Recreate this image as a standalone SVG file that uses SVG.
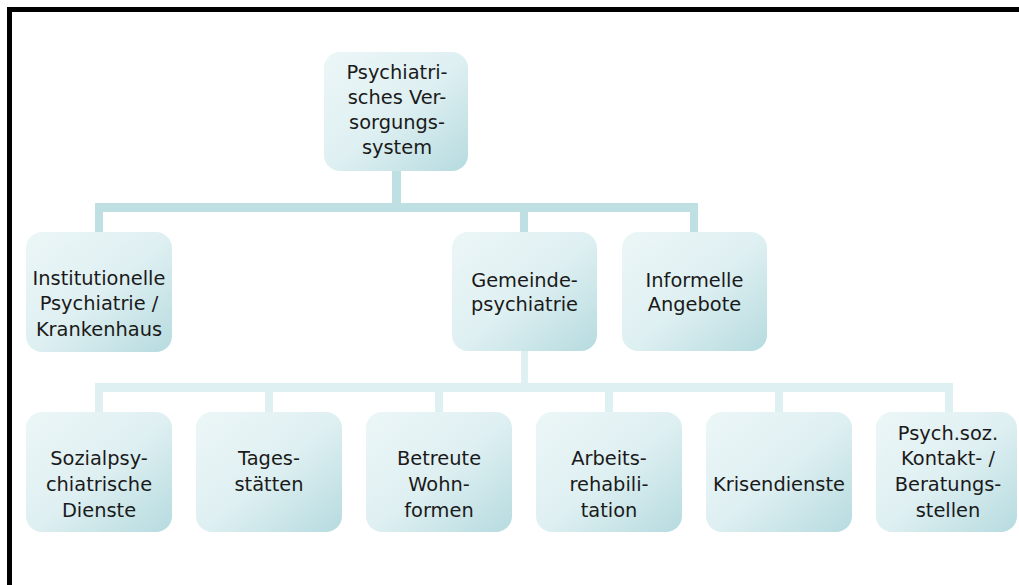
<svg xmlns="http://www.w3.org/2000/svg" width="1019" height="585" viewBox="0 0 1019 585">
<defs>
<linearGradient id="g" x1="0" y1="0" x2="1" y2="1">
<stop offset="0" stop-color="#ecf6f7"/>
<stop offset="0.5" stop-color="#dff0f2"/>
<stop offset="1" stop-color="#b6dbdf"/>
</linearGradient>
</defs>
<style>
.n{fill:url(#g);}
.t{font-family:"DejaVu Sans",sans-serif;font-size:19.4px;fill:#1a1a1a;text-anchor:middle;}
.c1{fill:#bfe0e3;}
.c2{fill:#def0f1;}
</style>
<rect width="1019" height="585" fill="#ffffff"/>
<path d="M9.5,585 V9.5 H1019" fill="none" stroke="#000" stroke-width="5"/>
<g id="connectors">
<rect class="c1" x="392" y="171" width="9" height="41"/>
<rect class="c1" x="95" y="203" width="603" height="9"/>
<rect class="c1" x="95" y="203" width="8" height="29"/>
<rect class="c1" x="520" y="203" width="8" height="29"/>
<rect class="c1" x="690" y="203" width="8" height="29"/>
<rect class="c2" x="521" y="351" width="7" height="41"/>
<rect class="c2" x="95" y="383" width="858" height="9"/>
<rect class="c2" x="95" y="383" width="8" height="29"/>
<rect class="c2" x="265" y="383" width="8" height="29"/>
<rect class="c2" x="435" y="383" width="8" height="29"/>
<rect class="c2" x="605" y="383" width="8" height="29"/>
<rect class="c2" x="775" y="383" width="8" height="29"/>
<rect class="c2" x="945" y="383" width="8" height="29"/>
</g>
<g id="n-root">
<rect class="n" x="324" y="52" width="144" height="119" rx="16"/>
<text class="t" x="397" y="79">Psychiatri-</text>
<text class="t" x="397" y="104">sches Ver-</text>
<text class="t" x="397" y="129">sorgungs-</text>
<text class="t" x="397" y="154">system</text>
</g>
<g id="n-inst">
<rect class="n" x="26" y="232" width="146" height="120" rx="16"/>
<text class="t" x="99" y="285">Institutionelle</text>
<text class="t" x="99" y="310">Psychiatrie /</text>
<text class="t" x="99" y="336">Krankenhaus</text>
</g>
<g id="n-gem">
<rect class="n" x="452" y="232" width="145" height="119" rx="16"/>
<text class="t" x="524.5" y="287">Gemeinde-</text>
<text class="t" x="524.5" y="311">psychiatrie</text>
</g>
<g id="n-inf">
<rect class="n" x="622" y="232" width="145" height="119" rx="16"/>
<text class="t" x="694.5" y="287">Informelle</text>
<text class="t" x="694.5" y="311">Angebote</text>
</g>
<g id="n-sozial">
<rect class="n" x="26" y="412" width="146" height="120" rx="16"/>
<text class="t" x="99" y="465">Sozialpsy-</text>
<text class="t" x="99" y="491">chiatrische</text>
<text class="t" x="99" y="517">Dienste</text>
</g>
<g id="n-tages">
<rect class="n" x="196" y="412" width="146" height="120" rx="16"/>
<text class="t" x="269" y="465">Tages-</text>
<text class="t" x="269" y="491">stätten</text>
</g>
<g id="n-betreut">
<rect class="n" x="366" y="412" width="146" height="120" rx="16"/>
<text class="t" x="439" y="465">Betreute</text>
<text class="t" x="439" y="491">Wohn-</text>
<text class="t" x="439" y="517">formen</text>
</g>
<g id="n-arbeit">
<rect class="n" x="536" y="412" width="146" height="120" rx="16"/>
<text class="t" x="609" y="465">Arbeits-</text>
<text class="t" x="609" y="491">rehabili-</text>
<text class="t" x="609" y="517">tation</text>
</g>
<g id="n-krise">
<rect class="n" x="706" y="412" width="146" height="120" rx="16"/>
<text class="t" x="779" y="491">Krisendienste</text>
</g>
<g id="n-psych">
<rect class="n" x="876" y="412" width="141" height="120" rx="16"/>
<text class="t" x="948" y="440">Psych.soz.</text>
<text class="t" x="948" y="465">Kontakt- /</text>
<text class="t" x="948" y="491">Beratungs-</text>
<text class="t" x="948" y="517">stellen</text>
</g>
</svg>
